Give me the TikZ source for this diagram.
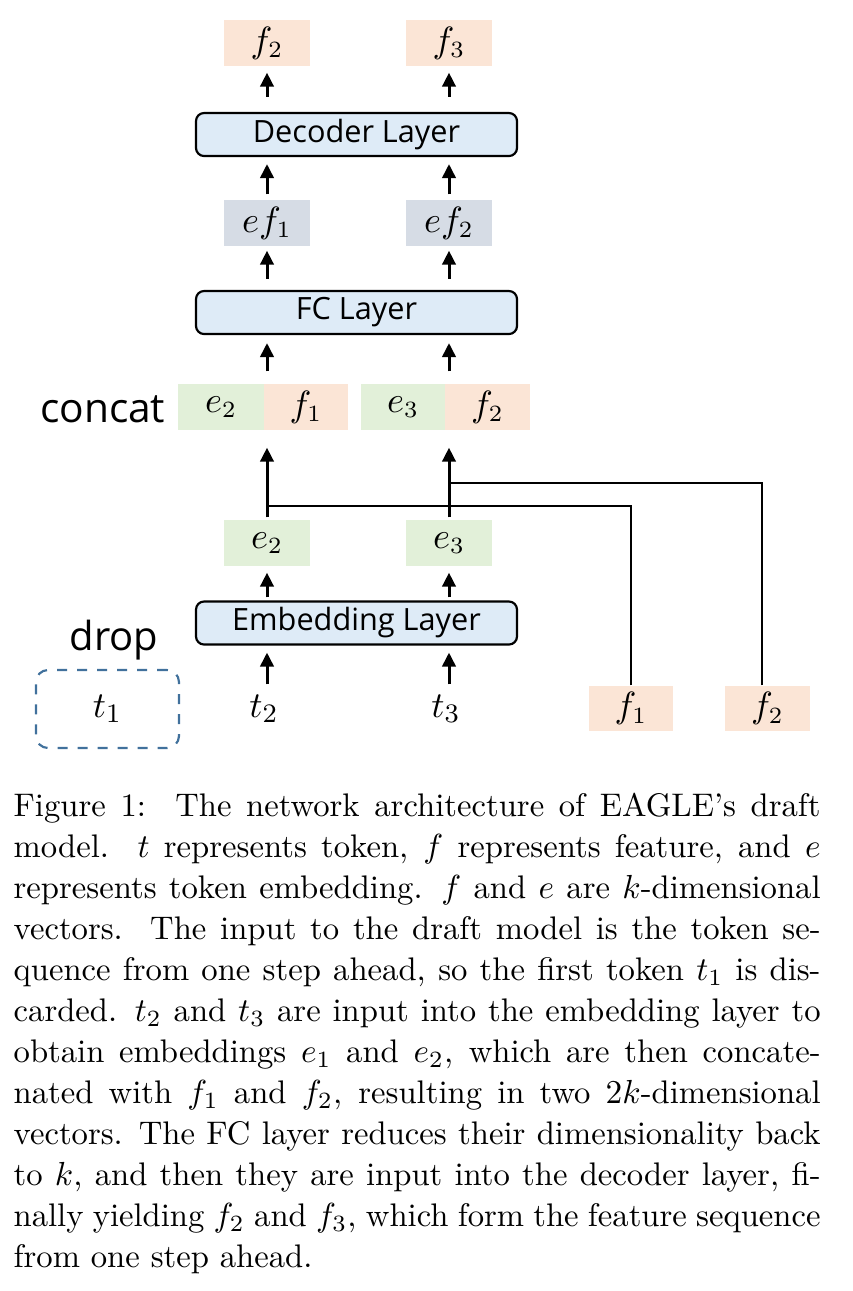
\documentclass[tikz,border=0pt]{standalone}
\usepackage{fontspec}
\newfontfamily\yh{Open Sans}
\usetikzlibrary{arrows.meta}
\definecolor{peach}{HTML}{FBE5D6}
\definecolor{lgreen}{HTML}{E2F0D9}
\definecolor{lblue}{HTML}{DEEBF7}
\definecolor{gblue}{HTML}{D6DCE5}
\definecolor{dashblue}{HTML}{41719C}
\tikzset{
  vec/.style={minimum width=25.8pt, minimum height=13.8pt, inner sep=0pt, font=\fontsize{10.6}{10.6}\selectfont},
  layer/.style={draw, rounded corners=2.4pt, fill=lblue, line width=0.65pt, minimum width=96.3pt, minimum height=12.9pt, inner sep=0pt, font=\yh\fontsize{9.2}{9.2}\selectfont},
  arr/.style={line width=0.9pt, -{Triangle[width=4pt,length=4.2pt]}},
  thinline/.style={line width=0.45pt},
  tok/.style={minimum width=25.8pt, minimum height=13.8pt, inner sep=0pt, font=\fontsize{10.8}{10.8}\selectfont},
}
\begin{document}
\begin{tikzpicture}[x=0.3pt,y=-0.3pt]
\useasboundingbox (0,0) rectangle (852,1291);
% top outputs
\node[vec, fill=peach] (f2top) at (267,43) {$f_2$};
\node[vec, fill=peach] (f3top) at (449,43) {$f_3$};
\node[layer] (dec) at (356.5,134.5) {Decoder Layer};
\node[vec, fill=gblue] (ef1) at (267,223) {$ef_1$};
\node[vec, fill=gblue] (ef2) at (449,223) {$ef_2$};
\node[layer] (fc) at (356.5,312.5) {FC Layer};
% concat
\node[vec, fill=lgreen, minimum width=25.8pt] (ce2) at (221,407) {$e_2$};
\node[vec, fill=peach, minimum width=25.2pt] (cf1) at (306,407) {$f_1$};
\node[vec, fill=lgreen, minimum width=25.2pt] (ce3) at (403,407) {$e_3$};
\node[vec, fill=peach, minimum width=25.5pt] (cf2) at (487.5,407) {$f_2$};
\node[anchor=east, font=\yh\fontsize{12.2}{12.2}\selectfont, inner sep=0pt] (concat) at (166,409) {concat};
% embeddings
\node[vec, fill=lgreen] (e2) at (267,543) {$e_2$};
\node[vec, fill=lgreen] (e3) at (449,543) {$e_3$};
\node[layer] (emb) at (356.5,623) {Embedding Layer};
% tokens
\node[draw=dashblue, dashed, line width=0.65pt, rounded corners=3.6pt, minimum width=42.9pt, minimum height=23.4pt, inner sep=0pt, font=\fontsize{10.8}{10.8}\selectfont] (t1) at (107.5,709) {$t_1$};
\node[font=\yh\fontsize{12}{12}\selectfont, inner sep=0pt] (drop) at (114,640) {drop};
\node[tok] (t2) at (264,709) {$t_2$};
\node[tok] (t3) at (446,709) {$t_3$};
\node[vec, fill=peach, minimum width=25.2pt, minimum height=13.5pt] (f1in) at (631,708.5) {$f_1$};
\node[vec, fill=peach, minimum width=25.5pt, minimum height=13.5pt] (f2in) at (767.5,708.5) {$f_2$};
% arrows
\draw[arr, shorten <=4.5pt, shorten >=1.8pt] (dec.north -| f2top) -- (f2top.south);
\draw[arr, shorten <=4.5pt, shorten >=1.8pt] (dec.north -| f3top) -- (f3top.south);
\draw[arr, shorten <=1.5pt, shorten >=2.1pt] (ef1.north) -- (ef1.north |- dec.south);
\draw[arr, shorten <=1.5pt, shorten >=2.1pt] (ef2.north) -- (ef2.north |- dec.south);
\draw[arr, shorten <=3.3pt, shorten >=1.2pt] (fc.north -| ef1) -- (ef1.south);
\draw[arr, shorten <=3.3pt, shorten >=1.2pt] (fc.north -| ef2) -- (ef2.south);
\draw[arr, shorten <=3.6pt, shorten >=2.4pt] (ce2.north -| e2) -- (e2 |- fc.south);
\draw[arr, shorten <=3.6pt, shorten >=2.4pt] (ce3.north -| e3) -- (e3 |- fc.south);
\draw[arr, shorten <=0.6pt, shorten >=5.1pt] (e2.north) -- (e2 |- ce2.south);
\draw[arr, shorten <=0.6pt, shorten >=5.1pt] (e3.north) -- (e3 |- ce3.south);
\draw[arr, shorten <=0.9pt, shorten >=1.8pt] (emb.north -| e2) -- (e2.south);
\draw[arr, shorten <=0.9pt, shorten >=1.8pt] (emb.north -| e3) -- (e3.south);
\draw[arr, shorten <=0.3pt, shorten >=2.1pt] (t2.north -| e2) -- (e2 |- emb.south);
\draw[arr, shorten <=0.3pt, shorten >=2.1pt] (t3.north -| e3) -- (e3 |- emb.south);
% skip lines
\coordinate (j1) at (267,506);
\coordinate (j2) at (449,483);
\draw[thinline] (f1in.north) |- (j1);
\draw[thinline] ([xshift=-1.6pt]f2in.north) |- (j2);
% caption
\node[anchor=north west, inner sep=0pt, text width=242.1pt, align=justify, font=\fontsize{9.8}{12.3}\selectfont] (cap) at (13,792) {%
Figure 1:\ \ The network architecture of EAGLE's draft\linebreak
model.\ \ $t$ represents token, $f$ represents feature, and $e$\linebreak
represents token embedding. $f$ and $e$ are $k$-dimensional\linebreak
vectors.\ \ The input to the draft model is the token se-\linebreak
quence from one step ahead, so the first token $t_1$ is dis-\linebreak
carded. $t_2$ and $t_3$ are input into the embedding layer to\linebreak
obtain embeddings $e_1$ and $e_2$, which are then concate-\linebreak
nated with $f_1$ and $f_2$, resulting in two $2k$-dimensional\linebreak
vectors. The FC layer reduces their dimensionality back\linebreak
to $k$, and then they are input into the decoder layer, fi-\linebreak
nally yielding $f_2$ and $f_3$, which form the feature sequence\linebreak
from one step ahead.\par};
\end{tikzpicture}
\end{document}
